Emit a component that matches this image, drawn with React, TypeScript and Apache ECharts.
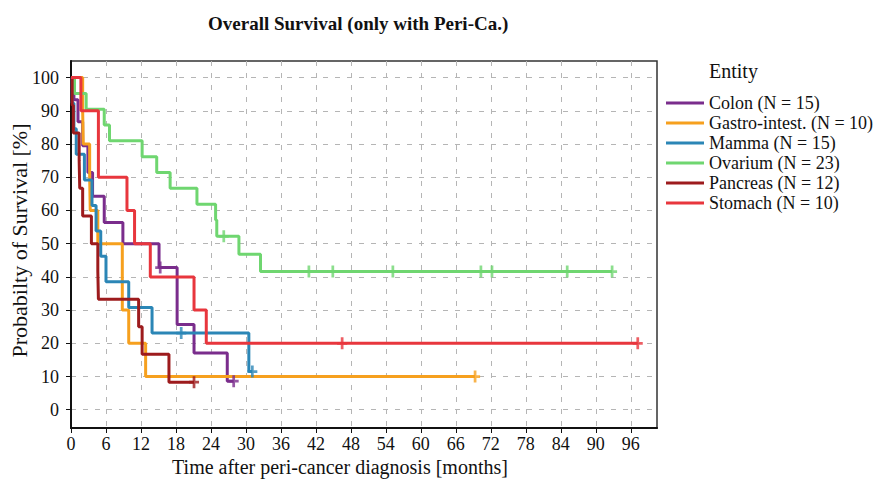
import { useEffect, useRef } from 'react';
import * as echarts from 'echarts';

// ---- Data ----
const entityNames = [
  'Colon (N = 15)',
  'Gastro-intest. (N = 10)',
  'Mamma (N = 15)',
  'Ovarium (N = 23)',
  'Pancreas (N = 12)',
  'Stomach (N = 10)',
];
const entityColors = ['#7a2d8c', '#f6a01e', '#2b86b6', '#6fd670', '#9d1b1d', '#e8363d'];

// Kaplan-Meier steps: time (months) and survival (%) after each event
const colonTime = [0, 0.5, 1.2, 2.0, 2.9, 3.7, 5.7, 8.9, 15.1, 18.2, 21.1, 26.8, 27.9];
const colonSurv = [100, 93.3, 86.7, 79.5, 71.4, 64.3, 56.4, 50, 42.8, 25.7, 17.1, 8.6, 8.6];
const colonCensorTime = [15.3, 27.9];
const colonCensorSurv = [42.8, 8.6];

const gastroTime = [0, 2.0, 2.1, 3.2, 3.3, 4.6, 8.8, 9.9, 12.8, 69.3];
const gastroSurv = [100, 90, 80, 70, 60, 50, 30, 20, 10, 10];
const gastroCensorTime = [69.3];
const gastroCensorSurv = [10];

const mammaTime = [0, 0.2, 0.5, 0.9, 2.3, 3.6, 4.3, 5.1, 6.0, 9.9, 13.9, 30.5, 31.1];
const mammaSurv = [100, 92.3, 84.6, 76.9, 69.2, 61.5, 53.8, 46.2, 38.5, 30.8, 23.1, 11.5, 11.5];
const mammaCensorTime = [18.9, 31.1];
const mammaCensorSurv = [23.1, 11.5];

const ovariumTime = [0, 0.6, 2.6, 5.7, 6.6, 12.2, 14.7, 17.0, 21.6, 24.8, 25.0, 28.8, 32.5, 92.8];
const ovariumSurv = [100, 95.2, 90.5, 85.7, 81.0, 76.2, 71.4, 66.7, 61.9, 57.1, 52.2, 46.8, 41.6, 41.6];
const ovariumCensorTime = [26.2, 40.8, 44.9, 55.2, 70.3, 72.2, 85.1, 92.8];
const ovariumCensorSurv = [52.2, 41.6, 41.6, 41.6, 41.6, 41.6, 41.6, 41.6];

const pancreasTime = [0, 0.2, 0.4, 1.4, 1.5, 2.0, 3.5, 4.6, 4.7, 11.6, 12.2, 16.8, 21.1];
const pancreasSurv = [100, 91.7, 83.3, 75, 66.7, 58.3, 50, 41.7, 33.3, 25, 16.7, 8.3, 8.3];
const pancreasCensorTime = [21.1];
const pancreasCensorSurv = [8.3];

const stomachTime = [0, 1.7, 4.7, 9.6, 10.9, 13.6, 21.1, 23.2, 97.2];
const stomachSurv = [100, 90, 70, 60, 50, 40, 30, 20, 20];
const stomachCensorTime = [46.5, 97.2];
const stomachCensorSurv = [20, 20];

const xTicks = [0, 6, 12, 18, 24, 30, 36, 42, 48, 54, 60, 66, 72, 78, 84, 90, 96];
const yTicks = [0, 10, 20, 30, 40, 50, 60, 70, 80, 90, 100];

const curves = [
  [colonTime, colonSurv, colonCensorTime, colonCensorSurv],
  [gastroTime, gastroSurv, gastroCensorTime, gastroCensorSurv],
  [mammaTime, mammaSurv, mammaCensorTime, mammaCensorSurv],
  [ovariumTime, ovariumSurv, ovariumCensorTime, ovariumCensorSurv],
  [pancreasTime, pancreasSurv, pancreasCensorTime, pancreasCensorSurv],
  [stomachTime, stomachSurv, stomachCensorTime, stomachCensorSurv],
];

const FONT = '"Liberation Serif", "Times New Roman", serif';
const PLUS = 'path://M4,0H7V5H11V8H7V13H4V8H0V5H4Z';

function zip(a: number[], b: number[]) {
  return a.map((v, i) => [v, b[i]]);
}

export default function App() {
  const ref = useRef<HTMLDivElement>(null);
  useEffect(() => {
    if (!ref.current) return;
    const chart = echarts.init(ref.current, null, { renderer: 'svg' });
    const series: any[] = [];
    curves.forEach((c, i) => {
      series.push({
        type: 'line',
        name: entityNames[i],
        step: 'end',
        data: zip(c[0], c[1]),
        showSymbol: false,
        lineStyle: { width: 3, color: entityColors[i] },
        itemStyle: { color: entityColors[i] },
        z: 3,
      });
    });
    curves.forEach((c, i) => {
      series.push({
        type: 'scatter',
        name: entityNames[i] + ' censored',
        data: zip(c[2], c[3]),
        symbol: PLUS,
        symbolSize: [10, 12],
        itemStyle: { color: entityColors[i] },
        z: 4,
      });
    });
    chart.setOption({
      animation: false,
      backgroundColor: '#ffffff',
      title: [
        {
          text: 'Overall Survival (only with Peri-Ca.)',
          left: 203,
          top: 9,
          textStyle: { fontFamily: FONT, fontSize: 19, fontWeight: 'bold', color: '#111' },
        },
        {
          text: 'Entity',
          left: 704,
          top: 56,
          textStyle: { fontFamily: FONT, fontSize: 20, fontWeight: 'normal', color: '#111' },
        },
      ],
      legend: {
        data: entityNames,
        orient: 'vertical',
        left: 661,
        top: 89,
        icon: 'rect',
        itemWidth: 38,
        itemHeight: 3,
        itemGap: 2,
        textStyle: { fontFamily: FONT, fontSize: 18, color: '#111' },
      },
      grid: {
        left: 71,
        right: 227,
        top: 61,
        bottom: 56,
        show: true,
        borderColor: '#333',
        borderWidth: 1.5,
        containLabel: false,
        outerBoundsMode: 'none',
      },
      xAxis: {
        type: 'value',
        min: 0,
        max: 100.5,
        interval: 6,
        name: 'Time after peri-cancer diagnosis [months]',
        nameLocation: 'middle',
        nameGap: 29,
        nameMoveOverlap: false,
        nameTextStyle: { fontFamily: FONT, fontSize: 20, color: '#111', padding: [0, 48, 0, 0] },
        axisLine: { show: true, onZero: false, lineStyle: { color: '#111', width: 2 } },
        axisTick: { show: true, length: 5, customValues: xTicks, lineStyle: { color: '#111' } },
        axisLabel: {
          customValues: xTicks,
          margin: 7,
          fontFamily: FONT,
          fontSize: 18,
          color: '#111',
        },
        splitLine: { show: true, lineStyle: { color: '#b5b5b5', type: [5, 7], width: 1 } },
      },
      yAxis: {
        type: 'value',
        min: -5.5,
        max: 105,
        minInterval: 10,
        maxInterval: 10,
        name: 'Probabilty of Survival [%]',
        nameLocation: 'middle',
        nameGap: 41,
        nameMoveOverlap: false,
        nameTextStyle: { fontFamily: FONT, fontSize: 22, color: '#111', padding: [0, 0, 0, 8] },
        axisLine: { show: true, onZero: false, lineStyle: { color: '#111', width: 2 } },
        axisTick: { show: true, length: 5, customValues: yTicks, lineStyle: { color: '#111' } },
        axisLabel: {
          customValues: yTicks,
          margin: 12,
          fontFamily: FONT,
          fontSize: 18,
          color: '#111',
        },
        splitLine: { show: true, lineStyle: { color: '#b5b5b5', type: [5, 7], width: 1 } },
      },
      series,
    });
    return () => chart.dispose();
  }, []);
  return (
    <div
      ref={ref}
      style={{ position: 'fixed', left: 0, top: 0, width: 884, height: 484, background: '#fff' }}
    />
  );
}
